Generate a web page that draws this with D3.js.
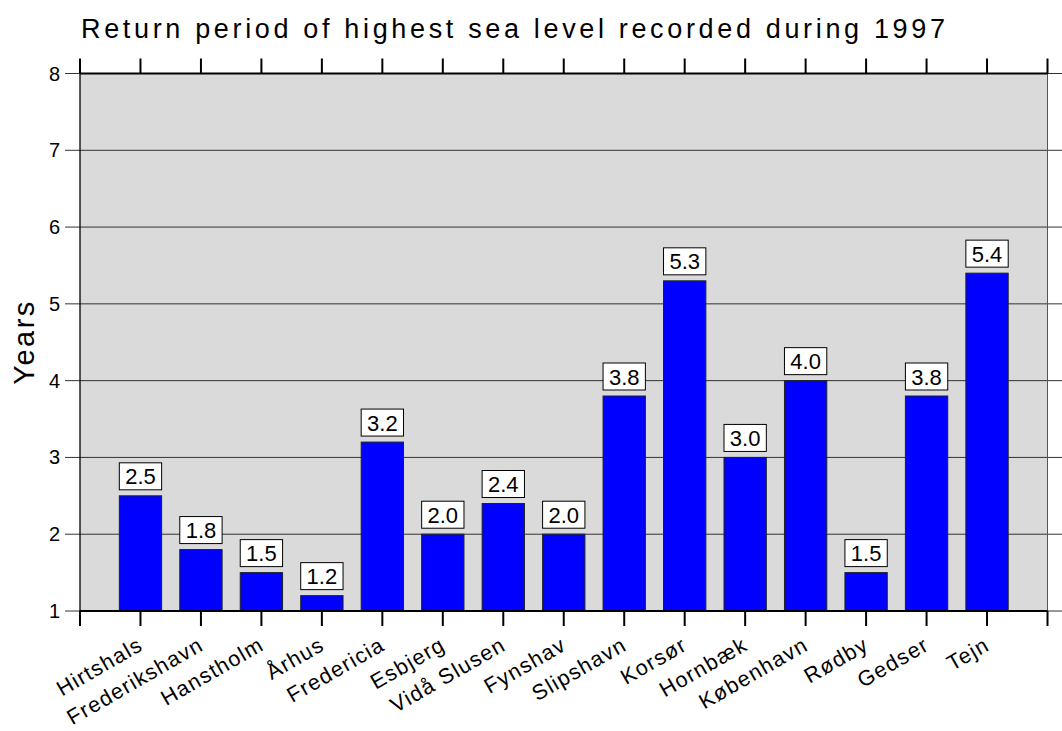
<!DOCTYPE html>
<html><head><meta charset="utf-8">
<script src="https://cdn.jsdelivr.net/npm/d3@7"></script>
<style>body{margin:0;background:#fff}svg{display:block;font-family:"Liberation Sans",Arial,sans-serif}</style>
</head><body>
<svg id="c" width="1062" height="731"></svg>
<script>
const stations = ["Hirtshals","Frederikshavn","Hanstholm","Århus","Fredericia","Esbjerg","Vidå Slusen","Fynshav","Slipshavn","Korsør","Hornbæk","København","Rødby","Gedser","Tejn"];
const returnYears = [2.5,1.8,1.5,1.2,3.2,2.0,2.4,2.0,3.8,5.3,3.0,4.0,1.5,3.8,5.4];
const yTicks = [1,2,3,4,5,6,7,8];
const titleText = "Return period of highest sea level recorded during 1997";
const yLabel = "Years";

const svg = d3.select("#c");
const L=80, R=1047.5, T=73.5, B=611;
const x = d3.scaleLinear().domain([0, stations.length+1]).range([L, R]);
const y = d3.scaleLinear().domain([1, 8]).range([B, T]);
const bw = (x(1)-x(0))*0.7;

svg.append("rect").attr("x",L).attr("y",T).attr("width",R-L).attr("height",B-T).attr("fill","#dadada");

// gridlines (extend left as ticks and right past frame)
svg.append("g").selectAll("line").data(yTicks).join("line")
  .attr("x1",65).attr("x2",1062).attr("y1",d=>y(d)).attr("y2",d=>y(d))
  .attr("stroke","#333").attr("stroke-width",1);
svg.append("g").selectAll("text").data(yTicks).join("text")
  .attr("x",60).attr("y",d=>y(d)+7).attr("text-anchor","end")
  .attr("font-size",20).text(d=>d);

// frame
svg.append("line").attr("x1",L).attr("x2",L).attr("y1",T).attr("y2",B).attr("stroke","#000").attr("stroke-width",1.3);
svg.append("line").attr("x1",R).attr("x2",R).attr("y1",T).attr("y2",B).attr("stroke","#555").attr("stroke-width",1);

// bars
const idx = d3.range(stations.length);
svg.append("g").selectAll("rect").data(idx).join("rect")
  .attr("x",i=>x(i+1)-bw/2).attr("width",bw)
  .attr("y",i=>y(returnYears[i])).attr("height",i=>B-y(returnYears[i]))
  .attr("fill","#0000ff").attr("stroke","#222").attr("stroke-width",1);

// value boxes
const lab = svg.append("g").selectAll("g").data(idx).join("g")
  .attr("transform",i=>`translate(${x(i+1)},${y(returnYears[i])-6})`);
lab.append("rect").attr("x",-bw/2).attr("width",bw).attr("y",-27).attr("height",27)
  .attr("fill","#fff").attr("stroke","#000").attr("stroke-width",1);
lab.append("text").attr("text-anchor","middle").attr("y",-5.5).attr("font-size",22)
  .text(i=>returnYears[i].toFixed(1));

// top & bottom axis lines and ticks
const tk = d3.range(0, stations.length+2);
svg.append("line").attr("x1",L).attr("x2",R).attr("y1",T).attr("y2",T).attr("stroke","#000").attr("stroke-width",2.2);
svg.append("line").attr("x1",L).attr("x2",R).attr("y1",B).attr("y2",B).attr("stroke","#000").attr("stroke-width",2.2);
svg.append("g").selectAll("line").data(tk).join("line")
  .attr("x1",d=>x(d)).attr("x2",d=>x(d)).attr("y1",T).attr("y2",T-15).attr("stroke","#000").attr("stroke-width",2);
svg.append("g").selectAll("line").data(tk).join("line")
  .attr("x1",d=>x(d)).attr("x2",d=>x(d)).attr("y1",B).attr("y2",B+15).attr("stroke","#000").attr("stroke-width",2);

// x labels
svg.append("g").selectAll("text").data(idx).join("text")
  .attr("transform",i=>`translate(${x(i+1)+4},${649}) rotate(-30)`)
  .attr("text-anchor","end").attr("font-size",21.5).attr("letter-spacing",1.3).text(i=>stations[i]);

// title & y label
svg.append("text").attr("x",81).attr("y",38).attr("font-size",27)
  .attr("textLength",864).attr("lengthAdjust","spacing").text(titleText);
svg.append("text").attr("transform","translate(34,342) rotate(-90)")
  .attr("text-anchor","middle").attr("font-size",29).attr("letter-spacing",2.5).text(yLabel);
</script>
</body></html>
